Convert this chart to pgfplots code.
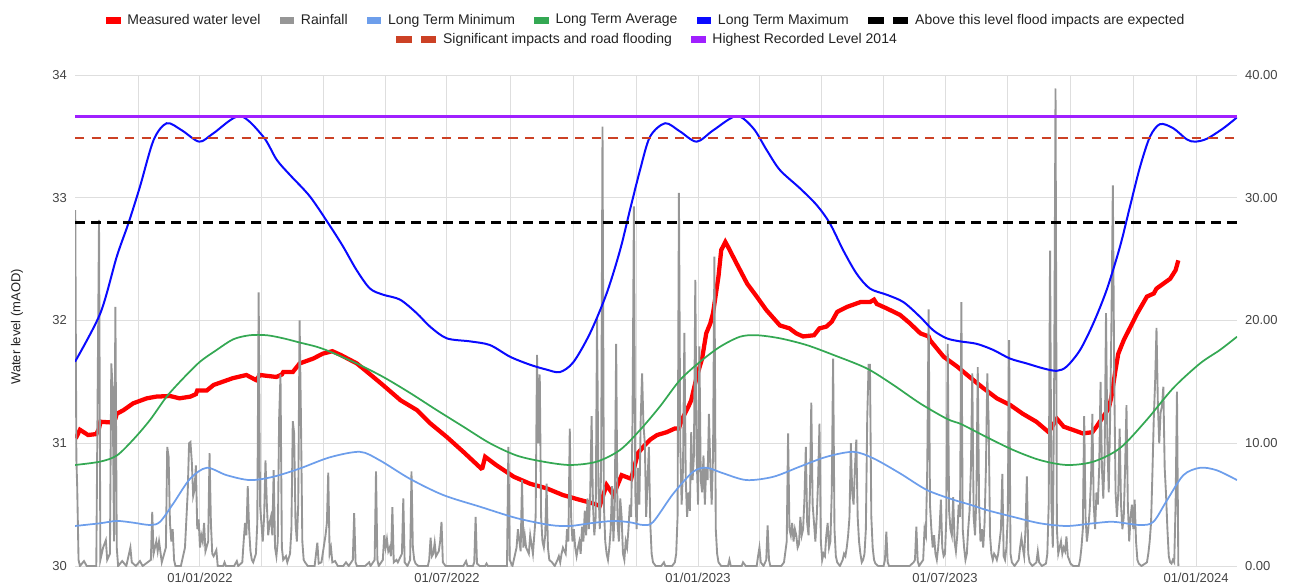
\documentclass[border=0pt]{standalone}
\usepackage{pgfplots}
\pgfplotsset{compat=1.18}
\usepackage{fontspec}
\setmainfont{Liberation Sans}

\definecolor{mwl}{RGB}{255,0,0}
\definecolor{rain}{RGB}{150,150,150}
\definecolor{ltmin}{RGB}{109,158,235}
\definecolor{ltavg}{RGB}{52,168,83}
\definecolor{ltmax}{RGB}{10,10,255}
\definecolor{sigimp}{RGB}{204,65,37}
\definecolor{hrl}{RGB}{160,32,255}
\definecolor{gridc}{RGB}{222,222,222}
\definecolor{tickc}{RGB}{68,68,68}
\definecolor{txtc}{RGB}{34,34,34}

% x is days from 01/01/2022; 1px of the reference = 0.75pt
\pgfplotsset{
  base/.style={
    scale only axis, width=871.5pt, height=368.25pt,
    at={(56.25pt,15.75pt)}, anchor=south west,
    xmin=-91.6, xmax=760,
    axis line style={draw=none},
    major tick length=0pt, minor tick length=0pt,
    tick label style={font=\fontsize{9.75}{11}\selectfont, color=tickc},
    /pgf/number format/assume math mode=true,
  },
  lsolid/.style={legend image code/.code={\fill[#1] (0pt,-2.2pt) rectangle (10pt,2.2pt);}},
  ldash/.style={legend image code/.code={\fill[#1] (0pt,-2.2pt) rectangle (11pt,2.2pt);
      \fill[#1] (18.5pt,-2.2pt) rectangle (29.5pt,2.2pt);}},
  lgd/.style={
    legend style={draw=none, fill=none, at={(#1)}, anchor=center,
      font=\fontsize{10.5}{12}\selectfont, text=txtc,
      nodes={inner sep=1pt},
      /tikz/every odd column/.append style={column sep=4.5pt},
      /tikz/every even column/.append style={column sep=13.5pt}},
    legend cell align=left,
  },
}

\begin{document}
\begin{tikzpicture}
\path[use as bounding box] (0,0) rectangle (969pt,440.25pt);

% axis 1: grid, water level scale, measured level
\begin{axis}[base,
  ymin=30, ymax=34, ytick={30,31,32,33,34},
  yticklabel style={xshift=-2.5pt},
  xticklabel style={yshift=-1.5pt},
  xtick={0,181,365,546,730},
  xticklabels={01/01/2022,01/07/2022,01/01/2023,01/07/2023,01/01/2024},
  minor xtick={-45.25,45.25,90.5,135.75,227.25,273.5,319.75,410.25,455.5,500.75,592,638,684},
  xmajorgrids, xminorgrids, ymajorgrids,
  grid style={gridc, line width=0.75pt},
  ylabel={Water level (mAOD)},
  ylabel style={at={(axis description cs:-0.0499,0.487)}, anchor=center,
    font=\fontsize{9.75}{11}\selectfont, color=txtc},
]
\addplot[mwl, line width=3.2pt, forget plot] coordinates {
(-91,31.04) (-88,31.11) (-82,31.067) (-76,31.075) (-74,31.12) (-73,31.175) (-66,31.17)
(-62,31.2) (-61,31.24) (-56,31.27) (-49,31.325) (-39,31.366) (-32,31.38) (-22,31.385)
(-15,31.366) (-7,31.38) (-3,31.40) (-2,31.43) (5,31.43) (10,31.475) (24,31.53) (34,31.556)
(41,31.515) (44,31.556) (56,31.54) (60,31.56) (61,31.58) (68,31.58) (73,31.65) (83,31.69)
(90,31.73) (97,31.75) (103,31.72) (115,31.65) (127,31.54) (134,31.475) (147,31.35)
(159,31.27) (169,31.16) (181,31.05) (193,30.93) (206,30.795) (207,30.80) (209,30.89)
(217,30.823) (230,30.727) (242,30.67) (254,30.633) (266,30.578) (278,30.54) (288,30.51)
(293,30.49) (298,30.66) (303,30.578) (309,30.74) (316,30.71) (321,30.92) (326,30.985)
(330,31.03) (335,31.067) (342,31.09) (348,31.12) (351,31.12) (353,31.19) (358,31.30)
(360,31.35) (364,31.54) (368,31.69) (371,31.895) (374,31.976) (376,32.06) (380,32.36)
(382,32.574) (385,32.64) (387,32.60) (393,32.47) (401,32.30) (408,32.195) (415,32.086)
(425,31.96) (432,31.936) (437,31.895) (442,31.87) (450,31.88) (454,31.936) (459,31.95)
(463,31.99) (467,32.07) (474,32.11) (484,32.15) (491,32.15) (494,32.17) (496,32.135)
(503,32.10) (513,32.046) (520,31.98) (528,31.895) (534,31.87) (535,31.84) (545,31.705)
(555,31.624) (564,31.54) (574,31.45) (584,31.366) (594,31.31) (603,31.24) (613,31.175)
(622,31.09) (628,31.20) (633,31.135) (640,31.108) (647,31.08) (654,31.09) (657,31.135)
(662,31.217) (666,31.285) (668,31.38) (671,31.60) (673,31.73) (677,31.84) (682,31.95)
(687,32.06) (694,32.195) (699,32.22) (701,32.26) (706,32.30) (711,32.34) (715,32.41)
(717,32.49) };
\end{axis}

% axis 2: rainfall on the right scale
\begin{axis}[base, lgd={0.4923,1.0723}, legend columns=2,
  ymin=0, ymax=40, ytick={0,10,20,30,40},
  yticklabel pos=right,
  yticklabel style={xshift=2.5pt, /pgf/number format/.cd, fixed, fixed zerofill, precision=2},
  xtick=\empty,
]
\addplot[rain, line width=1.4pt, forget plot] coordinates {
(-91.4,29.0) (-90.6,8.7) (-90,6.5) (-89,0.5) (-88,0) (-85,0.4) (-83,0) (-76,0) (-74,28.2)
(-73,0.5) (-71,1.5) (-69,2.1) (-68,0.5) (-66,1.0) (-65,16.5) (-64,14.5) (-63,2) (-62,21.1)
(-61,1.5) (-60,0) (-57,0.4) (-54,0) (-51,1.5) (-50,0.3) (-47,0) (-44,0.4) (-42,0)
(-36,0.5) (-35,4.4) (-34,1.0) (-32,2.0) (-31,1.2) (-30,2.0) (-28,0.3) (-25,1.5) (-24,9.7)
(-23,8.9) (-22,3.5) (-21,2.0) (-20,3.0) (-19,0.5) (-18,0) (-14,0) (-13,0.5) (-11,1.5)
(-9,6) (-8,10.0) (-7,10.1) (-6,8.5) (-5,5.7) (-4,6.2) (-3,8.2) (-2,3.0) (-1,3.8) (0,1.5)
(1,2.5) (2,2.0) (3,3.5) (4,1.2) (6,2.0) (7,9.2) (8,3.5) (9,1.0) (10,0.8) (12,1.3) (13,0)
(17,0) (18,0.3) (19,0) (25,0) (27,0.4) (28,0) (31,0.3) (32,2.0) (33,3.5) (34,2.5) (35,6.5)
(36,3.0) (37,1.2) (38,0.5) (39,0.3) (41,1.0) (42,3.5) (43,22.3) (44,5.0) (45,3.5) (46,2.0)
(47,4.0) (48,8.6) (49,5.0) (50,2.5) (51,3.5) (52,4.0) (53,2.5) (54,7.8) (55,1.5) (56,0.8)
(57,2.0) (58,12) (59,15.6) (60,1.5) (61,0.5) (63,0.8) (64,0.3) (66,1.0) (67,3.0) (68,11.8)
(69,10.8) (70,3.5) (71,2.0) (72,5) (73,20.0) (74,12) (75,2) (76,0.5) (77,0.3) (79,0)
(84,0) (86,1.9) (87,0.2) (89,0.3) (92,2.5) (93,3.5) (94,7.6) (95,1.0) (96,1.5) (97,0.3)
(99,0.4) (101,0) (105,0) (107,0.3) (109,0) (112,0.5) (113,4.3) (114,0.3) (115,0) (121,0)
(124,0.3) (125,0) (128,0.5) (129,7.7) (130,0.5) (131,0) (134,0.5) (135,2.5) (136,1.5)
(137,2.2) (138,1.2) (139,1.5) (140,0.8) (141,4.8) (142,0.3) (144,0.5) (145,0.3) (148,1.0)
(149,5.5) (150,0.3) (152,0) (154,0.5) (155,7.7) (156,1.5) (157,0.5) (158,0.2) (160,0)
(167,0) (168,0.5) (169,2.3) (170,0.8) (171,1.0) (172,1.9) (173,0.8) (175,1.2) (176,2.0)
(177,3.6) (178,0.3) (180,0) (193,0) (195,0.4) (196,0) (200,0) (201,0.3) (202,4.0)
(203,0.2) (205,0) (209,0) (210,0.2) (211,0) (225,0) (226,9.7) (227,0.5) (229,0) (232,1.5)
(233,3.0) (235,1.2) (236,7.0) (237,1.5) (238,2.5) (239,1.5) (241,1.0) (242,2.5) (244,1.0)
(246,4.0) (247,17.2) (248,10) (249,15.6) (250,4.0) (251,2.0) (252,1.5) (253,2.5) (254,6.7)
(255,1.5) (256,0.5) (258,0.3) (260,0) (262,0.5) (263,0.8) (264,0.3) (265,1.0) (266,1.5)
(268,1.0) (269,3.0) (270,2.0) (271,11.2) (272,4.0) (273,2.0) (274,3.0) (275,1.5) (276,0.8)
(277,1.5) (278,2.0) (279,1.0) (280,3.2) (281,2.0) (282,4.5) (283,2.5) (284,5.5) (285,3.0)
(286,6.0) (287,12.2) (288,5.0) (289,2.5) (290,4.0) (291,20.2) (292,6.5) (293,3.0) (294,8.0)
(295,35.8) (296,5.0) (297,2.0) (298,1.0) (299,0.5) (300,1.5) (301,3.0) (302,6.5) (303,2.0)
(304,5.0) (305,18.1) (306,3.5) (307,2.0) (308,5.5) (309,4.0) (310,1.0) (311,0.5) (312,2.0)
(313,1.5) (314,3.0) (315,5.0) (316,4.0) (317,12) (318,29.3) (319,6.0) (320,3.0) (321,8.0)
(322,5.0) (323,12) (324,15.7) (325,11.5) (326,10) (327,4.0) (328,7.0) (329,9.7) (330,3.5)
(331,1.0) (332,0.3) (334,0) (338,0) (340,0.3) (341,0) (346,0) (348,0.3) (349,1.0) (350,4)
(351,30.4) (352,9.7) (353,5.0) (354,8.0) (355,19.0) (356,7.0) (357,4.0) (358,6.0) (359,4.5)
(360,10.9) (361,7.0) (362,9.0) (363,23.3) (364,9.0) (365,5.0) (366,17.9) (367,7.0)
(368,6.0) (369,9.0) (370,5.0) (371,8.0) (372,7.0) (373,12.4) (374,8.0) (375,5.0) (376,9.0)
(377,25.2) (378,3.0) (379,1.0) (380,0.3) (382,0) (387,0) (388,0.5) (389,0) (397,0)
(398,0.3) (400,0) (408,0) (409,0.8) (410,1.5) (411,0.3) (413,0) (415,0.5) (416,3.3)
(417,0.5) (418,0) (426,0) (428,0.3) (430,2) (431,10.8) (432,3.0) (433,2.5) (434,3.5)
(435,2.0) (436,3.0) (437,2.5) (438,1.5) (439,1.8) (440,4.0) (441,2.5) (442,3.0) (443,5.5)
(444,9.7) (445,3.5) (446,2.5) (447,6.0) (448,13.3) (449,5.0) (450,3.5) (451,2.0) (452,4.0)
(453,7.0) (454,11.6) (455,2.0) (456,0.5) (457,1.0) (458,0.8) (459,2.5) (460,3.5) (461,1.5)
(462,2.0) (463,6.0) (464,16.9) (465,3.0) (466,0.8) (467,0.3) (469,0) (471,0.5) (472,1.0)
(473,0.8) (474,1.5) (475,2.5) (476,4.0) (477,10.0) (478,6.0) (479,5.0) (480,8.0) (481,10.3)
(482,4.0) (483,2.0) (484,1.0) (485,0.3) (486,0.5) (487,1.0) (488,3.0) (489,12) (490,16.4)
(491,16.4) (492,4.0) (493,1.5) (494,0.5) (495,0.2) (497,0) (501,0) (502,0.5) (503,2.8)
(504,0.3) (505,0) (520,0) (523,0.3) (524,0.5) (525,3.2) (526,0.4) (527,0) (530,0.5)
(531,3.0) (532,2.5) (533,8.0) (534,20.9) (535,5.0) (536,3.0) (537,1.5) (538,2.5) (539,1.0)
(540,0.5) (541,1.5) (542,3.0) (543,5.4) (544,1.5) (545,0.8) (546,1.0) (547,4.0) (548,18.1)
(549,4.5) (550,3.0) (551,2.5) (552,5.6) (553,2.0) (554,1.2) (555,2.5) (556,5.0) (557,4.0)
(558,21.5) (559,3.0) (560,1.5) (561,0.5) (562,1.0) (563,3.0) (564,4.5) (565,8.0) (566,15.7)
(567,4.0) (568,2.5) (569,5.5) (570,16.2) (571,5.0) (572,2.0) (573,3.0) (574,1.5) (575,3.5)
(576,8.0) (577,15.7) (578,11.6) (579,2.5) (580,1.0) (581,0.5) (582,1.0) (583,0.8) (584,0.5)
(585,1.0) (586,2.0) (587,3.0) (588,7.5) (589,0.8) (590,0.5) (591,1.5) (592,4.0) (593,18.4)
(594,1.0) (595,0.3) (597,0) (600,0.5) (601,1.5) (602,2.3) (603,1.5) (604,0.8) (605,3.0)
(606,7.3) (607,1.0) (608,0.3) (610,0) (613,0.3) (614,1.2) (615,0.3) (617,0) (620,0.2)
(621,1.0) (622,5.0) (623,25.7) (624,5.0) (625,1.5) (626,15) (627,38.9) (628,3.0) (629,1.0)
(630,1.5) (631,2.0) (632,1.0) (633,1.5) (634,1.2) (635,2.4) (636,0.8) (637,0.5) (638,0.2)
(640,0) (644,0) (645,0.5) (646,1.5) (647,3.0) (648,12.2) (649,4.0) (650,2.0) (651,3.0)
(652,4.5) (653,7.0) (654,12.4) (655,5.0) (656,3.0) (657,6.0) (658,5.0) (659,8.0) (660,15.0)
(661,8.0) (662,5.5) (663,9.0) (664,20.6) (665,10.0) (666,6.0) (667,12.0) (668,20) (669,31.0)
(670,15.7) (671,6.0) (672,4.0) (673,6.0) (674,11.2) (675,5.0) (676,3.0) (677,4.0) (678,8.0)
(679,13.1) (680,5.0) (681,2.0) (682,4.0) (683,5.0) (684,3.0) (685,5.4) (686,2.0) (687,0.5)
(688,0.2) (690,0) (694,0.3) (695,1.0) (696,2.0) (697,3.5) (698,7.5) (699,12.0) (700,15.0)
(701,19.4) (702,13.2) (703,10.0) (704,12.5) (705,13.0) (706,14.6) (707,8.0) (708,5.8)
(709,3.0) (710,0.8) (711,0.3) (712,0.2) (713,0.5) (714,0.3) (715,5) (716,14.2) (717,0) };
\addlegendimage{ldash=sigimp}
\addlegendentry{Significant impacts and road flooding}
\addlegendimage{lsolid=hrl}
\addlegendentry{Highest Recorded Level 2014}
\end{axis}

% axis 3: long term curves and thresholds
\begin{axis}[base, lgd={0.4914,1.112}, legend columns=6,
  ymin=30, ymax=34, ytick=\empty, xtick=\empty,
]
\addplot[ltmin, line width=1.3pt, smooth, forget plot] coordinates {
(-91.6,30.326) (-73.3,30.348) (-61,30.367) (-48.9,30.353) (-36.6,30.334) (-29.3,30.36)
(-19.5,30.51) (-7.3,30.71) (4.9,30.80) (19.5,30.74) (36.6,30.70) (53.7,30.727)
(73.3,30.795) (95.3,30.886) (117.3,30.93) (131.9,30.86) (153.9,30.71) (178.3,30.578)
(205.2,30.483) (232.1,30.39) (256.5,30.334) (271.2,30.326) (285.8,30.348) (302.9,30.367)
(315.1,30.356) (324.9,30.334) (332.2,30.36) (346.9,30.59) (361.5,30.768) (371.3,30.80)
(383.5,30.755) (400.6,30.70) (420.2,30.727) (439.7,30.81) (459.3,30.89) (478.8,30.93)
(493.5,30.877) (513,30.755) (532.6,30.62) (552.1,30.54) (564.3,30.50) (576.5,30.456)
(596,30.40) (615.6,30.348) (635.2,30.326) (654.7,30.348) (669.3,30.36) (688.9,30.334)
(698.7,30.36) (708.4,30.53) (720.7,30.74) (732.9,30.80) (745.1,30.78) (760,30.70) };
\addplot[ltavg, line width=1.3pt, smooth, forget plot] coordinates {
(-91.6,30.823) (-73.3,30.85) (-61,30.90) (-48.9,31.03) (-36.6,31.19) (-24.4,31.38)
(-12.2,31.53) (0,31.664) (12.2,31.76) (24.4,31.847) (36.6,31.88) (48.9,31.88) (61,31.855)
(73.3,31.82) (85.5,31.786) (95.3,31.746) (114.8,31.65) (134.3,31.54) (153.9,31.41)
(173.5,31.27) (193,31.135) (212.5,31.0) (232.1,30.90) (251.6,30.85) (271.2,30.823)
(290.7,30.85) (307.8,30.945) (322.5,31.108) (337.1,31.30) (351.8,31.515) (366.5,31.664)
(381.1,31.786) (395.8,31.868) (408,31.88) (425,31.855) (444.6,31.80) (464.1,31.72)
(488.6,31.61) (508.1,31.475) (527.7,31.325) (547.2,31.20) (557,31.16) (564.3,31.12)
(576.5,31.05) (596,30.945) (615.6,30.863) (635.2,30.823) (654.7,30.85) (674.2,30.96)
(693.8,31.19) (713.3,31.45) (732.9,31.65) (747.5,31.76) (760,31.868) };
\addplot[ltmax, line width=1.5pt, smooth, forget plot] coordinates {
(-91.6,31.664) (-73,32.06) (-61,32.52) (-52.5,32.79) (-44,33.09) (-34,33.47) (-24.4,33.607)
(-13.4,33.55) (-0.5,33.457) (9.8,33.525) (29.3,33.666) (46.4,33.497) (56.2,33.31)
(66,33.185) (80.6,33.01) (95.3,32.77) (105,32.60) (114.8,32.41) (124.6,32.26) (134.3,32.21)
(146.6,32.17) (158.8,32.06) (168.6,31.95) (180.8,31.855) (197.9,31.83) (212.5,31.80)
(227.2,31.705) (241.8,31.64) (254,31.60) (263.8,31.58) (273.6,31.66) (285.8,31.895)
(298,32.22) (307.8,32.57) (315.1,32.90) (322.5,33.226) (329.8,33.497) (340.9,33.607)
(351.8,33.54) (364,33.457) (376.2,33.55) (393.3,33.666) (405.5,33.566) (415.3,33.389)
(425,33.226) (439.7,33.077) (452,32.94) (461.7,32.79) (471.5,32.57) (481.3,32.38)
(491,32.26) (503.3,32.21) (515.5,32.15) (527.7,32.03) (537.4,31.92) (547.2,31.855)
(557,31.83) (569.2,31.81) (581.4,31.76) (593.6,31.69) (605.9,31.65) (618,31.61)
(627.9,31.59) (635.2,31.625) (645,31.76) (654.7,31.977) (664.5,32.25) (674.2,32.60)
(681.6,32.93) (688.9,33.25) (696.2,33.497) (703.6,33.60) (713.3,33.566) (723.1,33.476)
(729.2,33.457) (737.8,33.48) (750,33.566) (760,33.655) };
\addplot[color=black, line width=1.9pt, dash pattern=on 7.5pt off 4.5pt, forget plot]
  coordinates {(-91.6,32.80) (760,32.80)};
\addplot[color=sigimp, line width=1.4pt, dash pattern=on 7pt off 5.5pt, forget plot]
  coordinates {(-91.6,33.49) (760,33.49)};
\addplot[color=hrl, line width=1.9pt, forget plot]
  coordinates {(-91.6,33.66) (760,33.66)};

\addlegendimage{lsolid=mwl}
\addlegendentry{Measured water level}
\addlegendimage{lsolid=rain}
\addlegendentry{Rainfall}
\addlegendimage{lsolid=ltmin}
\addlegendentry{Long Term Minimum}
\addlegendimage{lsolid=ltavg}
\addlegendentry{Long Term Average}
\addlegendimage{lsolid=ltmax}
\addlegendentry{Long Term Maximum}
\addlegendimage{ldash=black}
\addlegendentry{Above this level flood impacts are expected}
\end{axis}
\end{tikzpicture}
\end{document}
